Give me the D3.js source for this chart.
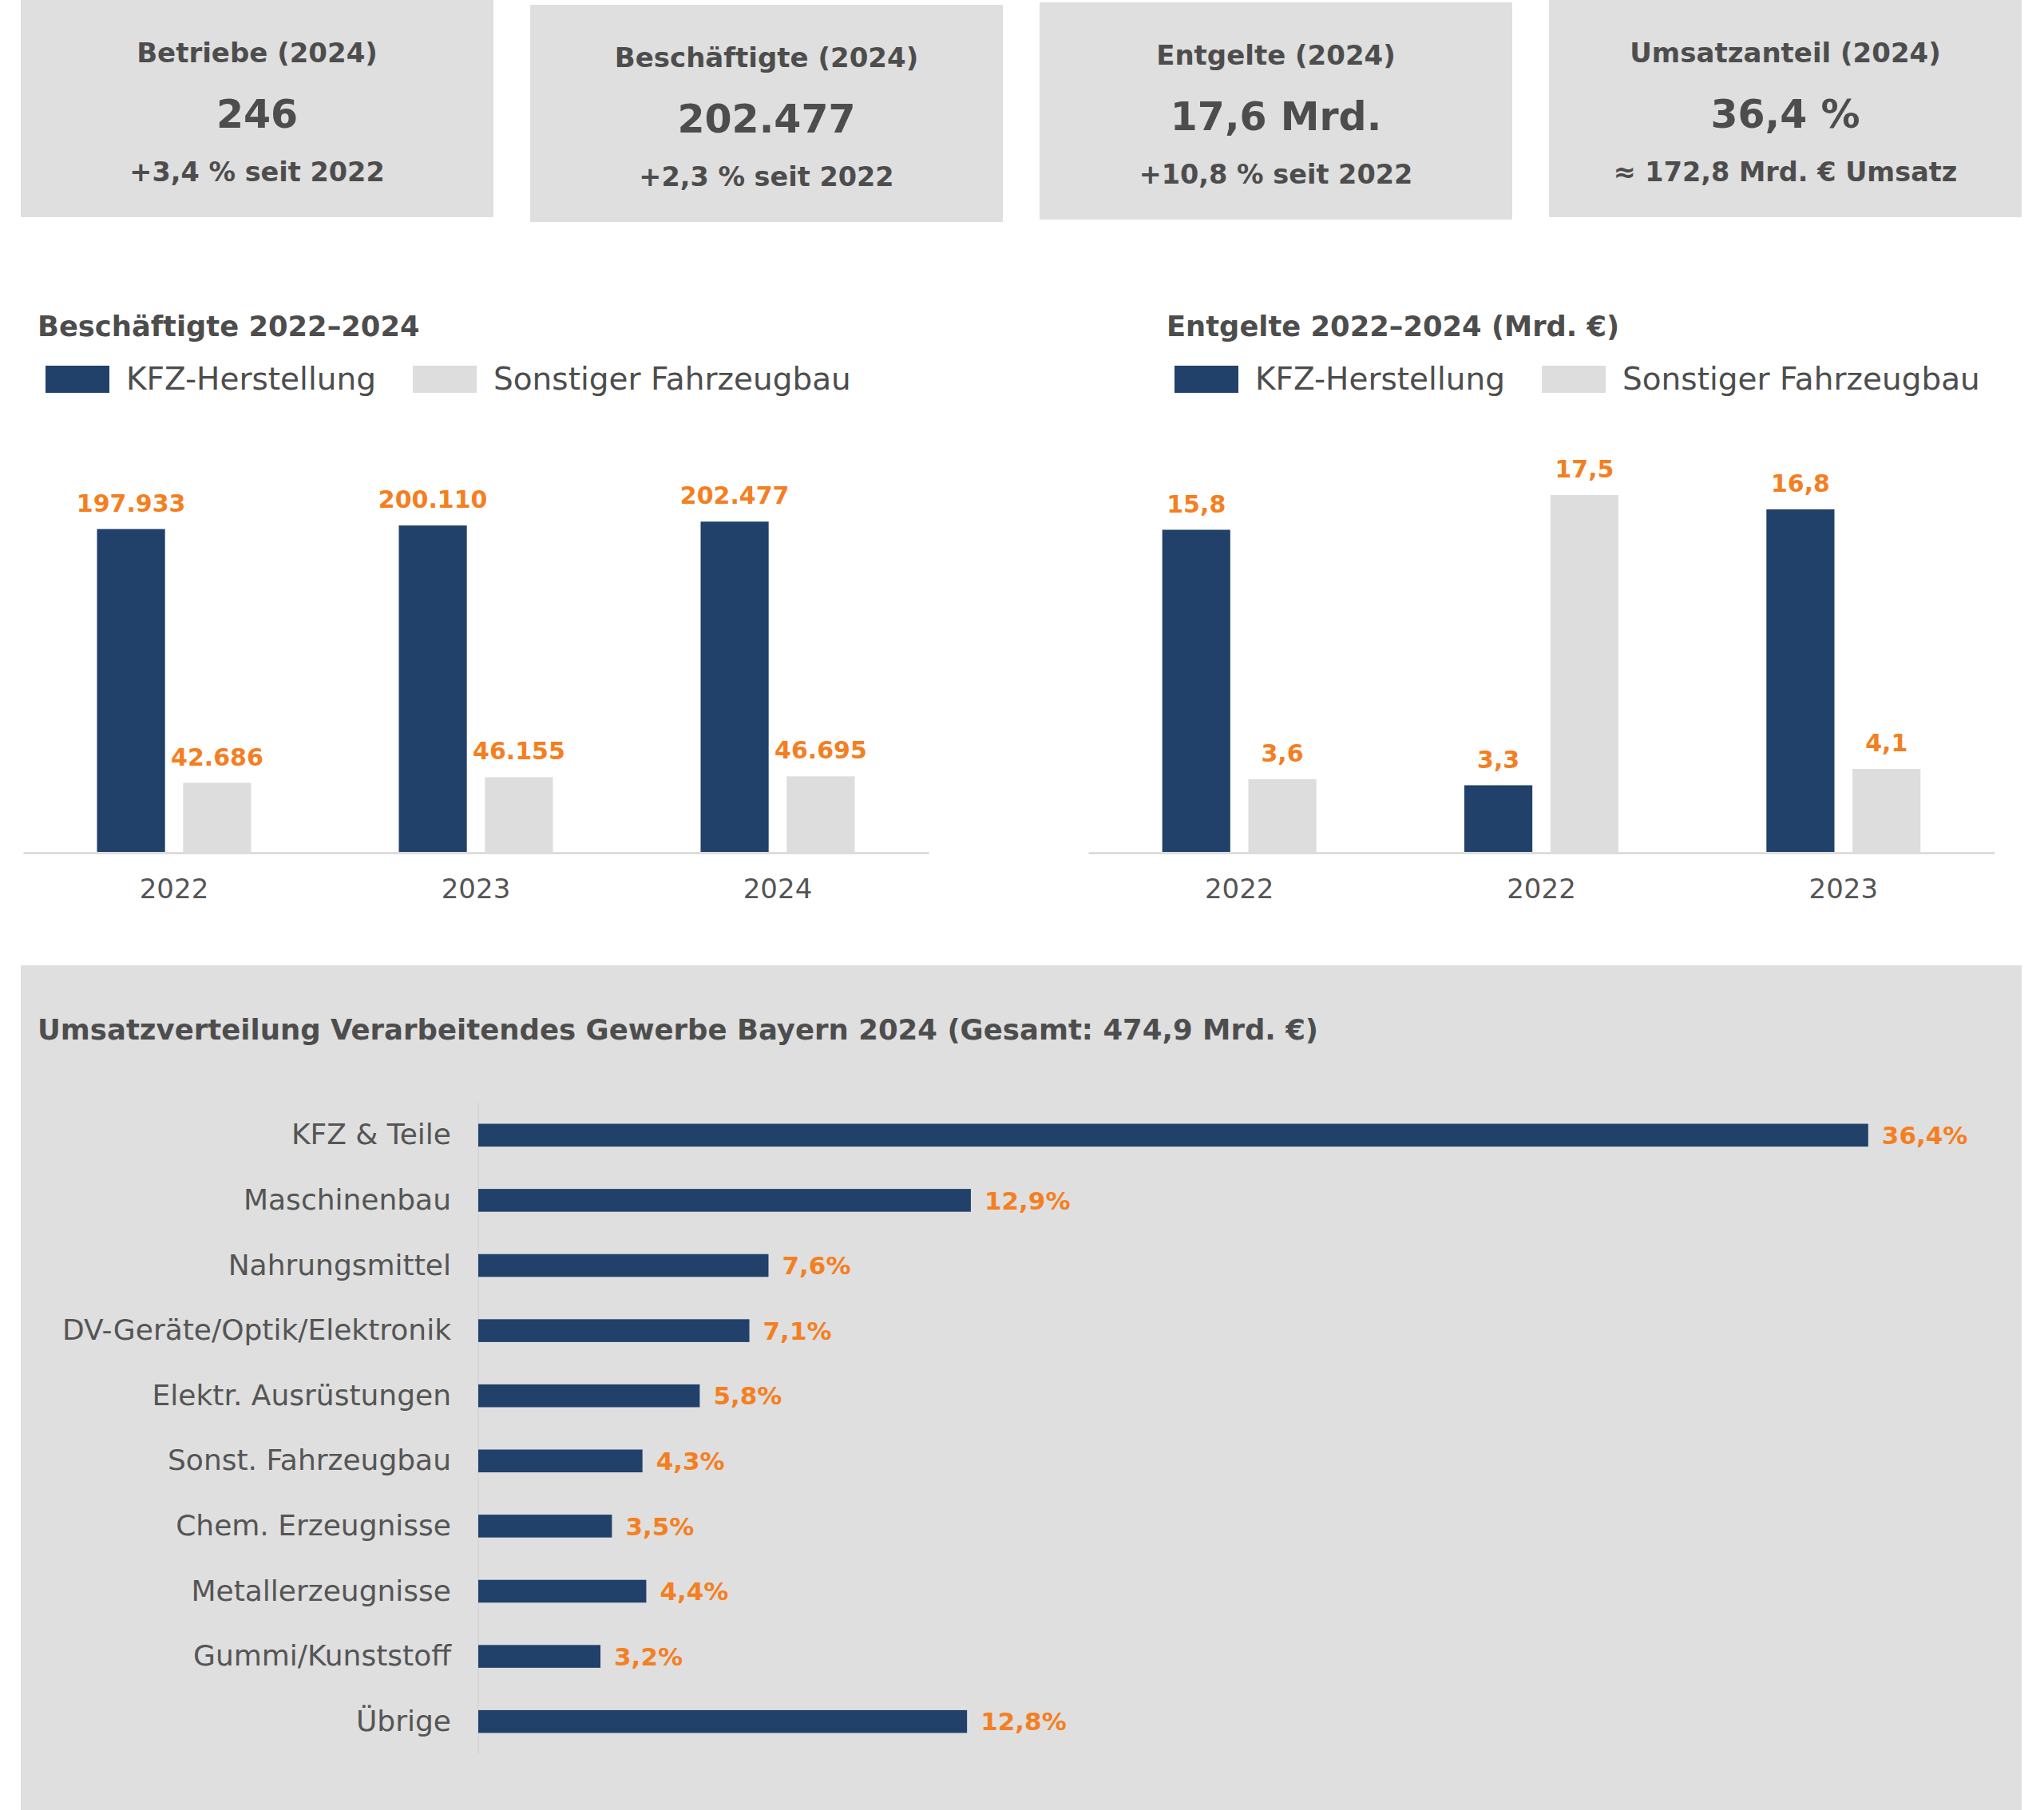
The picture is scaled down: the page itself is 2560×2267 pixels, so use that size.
<!DOCTYPE html>
<html>
<head>
<meta charset="utf-8">
<script src="https://cdn.jsdelivr.net/npm/d3@7"></script>
<style>
  body { margin: 0; background: #fff; }
  svg { display: block; font-family: "DejaVu Sans", sans-serif; }
</style>
</head>
<body>
<svg id="chart" width="2560" height="2267"></svg>
<script>
// KPI cards
let kpiTitles = ['Betriebe (2024)', 'Beschäftigte (2024)', 'Entgelte (2024)', 'Umsatzanteil (2024)'];
let kpiValues = ['246', '202.477', '17,6 Mrd.', '36,4 %'];
let kpiNotes = ['+3,4 % seit 2022', '+2,3 % seit 2022', '+10,8 % seit 2022', '≈ 172,8 Mrd. € Umsatz'];

// grouped bar charts
let seriesNames = ['KFZ-Herstellung', 'Sonstiger Fahrzeugbau'];
let empYears = ['2022', '2023', '2024'];
let empKfz = [197933, 200110, 202477];
let empSonst = [42686, 46155, 46695];
let payYears = ['2022', '2022', '2023'];
let payKfz = [15.8, 3.3, 16.8];
let paySonst = [3.6, 17.5, 4.1];

// revenue shares
let sectors = ['KFZ & Teile', 'Maschinenbau', 'Nahrungsmittel', 'DV-Geräte/Optik/Elektronik',
    'Elektr. Ausrüstungen', 'Sonst. Fahrzeugbau', 'Chem. Erzeugnisse', 'Metallerzeugnisse',
    'Gummi/Kunststoff', 'Übrige'];
let sectorShares = [36.4, 12.9, 7.6, 7.1, 5.8, 4.3, 3.5, 4.4, 3.2, 12.8];

const NAVY = '#21416a';
const LIGHT = '#dddddd';
const ORANGE = '#f47f22';
const TEXT = '#4d4d4d';
const PANEL = '#dfdfdf';

let de = d3.formatLocale({decimal: ',', thousands: '.', grouping: [3], currency: ['', ' €']});
let fmtInt = de.format(',d');
let fmtOne = de.format('.1f');

let svg = d3.select('#chart');

// ---- cards ----
let cardX = d3.scaleBand().domain(d3.range(kpiTitles.length)).range([26, 2532]).paddingInner(0.072);
let cardTop = [0, 6, 3, 0];

let cards = svg.selectAll('g.card').data(kpiTitles).join('g')
    .attr('class', 'card')
    .attr('transform', (d, i) => `translate(${cardX(i)},${cardTop[i]})`);

cards.append('rect')
    .attr('width', cardX.bandwidth()).attr('height', 272)
    .attr('fill', PANEL);

cards.append('text')
    .attr('x', cardX.bandwidth() / 2).attr('y', 78)
    .attr('text-anchor', 'middle').attr('font-size', 34).attr('font-weight', 'bold').attr('fill', TEXT)
    .text(d => d);

cards.append('text')
    .attr('x', cardX.bandwidth() / 2).attr('y', 160)
    .attr('text-anchor', 'middle').attr('font-size', 49).attr('font-weight', 'bold').attr('fill', TEXT)
    .text((d, i) => kpiValues[i]);

cards.append('text')
    .attr('x', cardX.bandwidth() / 2).attr('y', 227)
    .attr('text-anchor', 'middle').attr('font-size', 33.5).attr('font-weight', 'bold').attr('fill', TEXT)
    .text((d, i) => kpiNotes[i]);

// ---- grouped bars ----
function drawGrouped(title, titleX, left, right, years, kfz, sonst, yMax, fmt){
    let g = svg.append('g');

    g.append('text')
        .attr('x', titleX).attr('y', 421)
        .attr('font-size', 35.3).attr('font-weight', 'bold').attr('fill', TEXT)
        .text(title);

    // legend
    let legendX = [titleX + 10, titleX + 470];
    seriesNames.forEach((name, i) => {
        g.append('rect')
            .attr('x', legendX[i]).attr('y', 458)
            .attr('width', 80).attr('height', 34)
            .attr('fill', i == 0 ? NAVY : LIGHT);
        g.append('text')
            .attr('x', legendX[i] + 101).attr('y', 488)
            .attr('font-size', 39).attr('fill', TEXT)
            .text(name);
    });

    let idx = d3.range(years.length);
    let x0 = d3.scaleBand().domain(idx).range([left, right]);
    let x1 = d3.scaleBand().domain([0, 1]).range([-96.5, 96.5]).paddingInner(0.21);
    let y = d3.scaleLinear().domain([0, yMax]).range([1068, 556]);

    let rows = idx.map(i => [kfz[i], sonst[i]]);

    let groups = g.selectAll('g.grp').data(rows).join('g')
        .attr('class', 'grp')
        .attr('transform', (d, i) => `translate(${x0(i) + x0.bandwidth() / 2},0)`);

    groups.selectAll('rect').data(d => d).join('rect')
        .attr('x', (d, j) => x1(j))
        .attr('y', d => y(d))
        .attr('width', x1.bandwidth())
        .attr('height', d => y(0) - y(d))
        .attr('fill', (d, j) => j == 0 ? NAVY : LIGHT);

    groups.selectAll('text').data(d => d).join('text')
        .attr('x', (d, j) => x1(j) + x1.bandwidth() / 2)
        .attr('y', d => y(d) - 22)
        .attr('text-anchor', 'middle')
        .attr('font-size', 30).attr('font-weight', 'bold').attr('fill', ORANGE)
        .text(d => fmt(d));

    let axis = g.append('g')
        .attr('transform', `translate(0,${y(0)})`)
        .call(d3.axisBottom(x0).tickSize(0).tickPadding(0).tickFormat(i => years[i]));
    axis.select('.domain').attr('stroke', '#dddddd').attr('stroke-width', 3);
    axis.selectAll('text')
        .attr('y', 57).attr('dy', 0)
        .attr('font-size', 34).attr('fill', '#555555')
        .attr('font-family', '"DejaVu Sans", sans-serif');
}

drawGrouped('Beschäftigte 2022–2024', 47, 29, 1163, empYears, empKfz, empSonst, 250000, fmtInt);
drawGrouped('Entgelte 2022–2024 (Mrd. €)', 1461, 1363, 2498, payYears, payKfz, paySonst, 20, fmtOne);

// ---- revenue shares ----
let panel = svg.append('g');
panel.append('rect')
    .attr('x', 26).attr('y', 1209)
    .attr('width', 2506).attr('height', 2267 - 1209)
    .attr('fill', PANEL);

panel.append('text')
    .attr('x', 47).attr('y', 1302)
    .attr('font-size', 35.5).attr('font-weight', 'bold').attr('fill', TEXT)
    .text('Umsatzverteilung Verarbeitendes Gewerbe Bayern 2024 (Gesamt: 474,9 Mrd. €)');

let hx = d3.scaleLinear().domain([0, 40]).range([599, 2512]);
let hy = d3.scaleBand().domain(sectors).range([1381, 2197]).paddingInner(0.65).paddingOuter(0.325);

panel.append('line')
    .attr('x1', hx(0)).attr('x2', hx(0))
    .attr('y1', 1381).attr('y2', 2197)
    .attr('stroke', '#d4d4d4').attr('stroke-width', 1.5);

panel.selectAll('rect.bar').data(sectorShares).join('rect')
    .attr('class', 'bar')
    .attr('x', hx(0))
    .attr('y', (d, i) => hy(sectors[i]))
    .attr('width', d => hx(d) - hx(0))
    .attr('height', hy.bandwidth())
    .attr('fill', NAVY);

panel.selectAll('text.share').data(sectorShares).join('text')
    .attr('class', 'share')
    .attr('x', d => hx(d) + 17)
    .attr('y', (d, i) => hy(sectors[i]) + hy.bandwidth() / 2)
    .attr('dy', '0.36em')
    .attr('font-size', 31).attr('font-weight', 'bold').attr('fill', ORANGE)
    .text(d => fmtOne(d) + '%');

let yAxis = panel.append('g')
    .attr('transform', `translate(${hx(0)},0)`)
    .call(d3.axisLeft(hy).tickSize(0).tickPadding(34));
yAxis.select('.domain').remove();
yAxis.selectAll('text')
    .attr('font-size', 36).attr('fill', '#555555')
    .attr('font-family', '"DejaVu Sans", sans-serif');
</script>
</body>
</html>
